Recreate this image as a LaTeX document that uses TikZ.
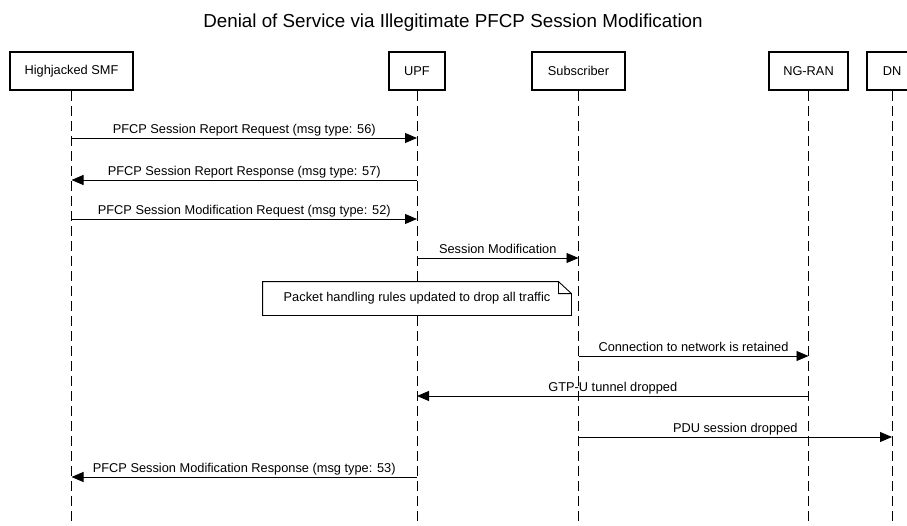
\documentclass[tikz,border=0pt]{standalone}
\usepackage{fontspec}
\setmainfont{Liberation Sans}
\usetikzlibrary{arrows.meta}
\newcommand{\msgfont}{\fontsize{12.8}{15}\selectfont}

\begin{document}
\begin{tikzpicture}[x=1pt,y=-1pt,line width=0.9pt,
    party/.style={draw,line width=2pt,minimum height=38pt,font=\msgfont},
    life/.style={dash pattern=on 10pt off 5pt},
    msg/.style={-{Triangle[length=12pt,width=10pt]}},
    lbl/.style={anchor=base,yshift=5pt,font=\msgfont}
    ]
    \useasboundingbox (0,0) rectangle (907,525);
    \clip (0,0) rectangle (907,525);
    % Titel
    \node[anchor=base,font=\fontsize{18.8}{22}\selectfont] (title) at (453,27)
        {Denial of Service via Illegitimate PFCP Session Modification};
    % Teilnehmer
    \node[party,minimum width=123pt] (smf) at (71.5,71) {Highjacked SMF};
    \node[party,minimum width=56pt] (upf) at (417,71) {UPF};
    \node[party,minimum width=93pt] (sub) at (578.5,71) {Subscriber};
    \node[party,minimum width=79pt] (ran) at (808.5,71) {NG-RAN};
    \node[party,minimum width=50pt] (dn) at (892,71) {DN};
    % Lebenslinien
    \foreach \p in {smf,upf,sub,ran,dn}
        \draw[life] (\p.south) -- (\p |- 0,530);
    % Nachrichten
    \draw[msg] (smf |- 0,138) -- node[lbl] {PFCP Session Report Request (msg type: 56)} (upf |- 0,138);
    \draw[msg] (upf |- 0,180) -- node[lbl] {PFCP Session Report Response (msg type: 57)} (smf |- 0,180);
    \draw[msg] (smf |- 0,219) -- node[lbl] {PFCP Session Modification Request (msg type: 52)} (upf |- 0,219);
    \draw[msg] (upf |- 0,258) -- node[lbl] {Session Modification} (sub |- 0,258);
    % Notiz
    \node[fill=white,minimum width=308pt,minimum height=33pt,font=\msgfont] (note) at (417,298.5)
        {Packet handling rules updated to drop all traffic};
    \draw
    (note.south west) -- (note.north west) -- ([xshift=-13pt]note.north east)
    -- ([yshift=-12pt]note.north east) -- (note.south east) -- cycle
    ([xshift=-13pt]note.north east) |- ([yshift=-12pt]note.north east)
    ;
    \draw[msg] (sub |- 0,356) -- node[lbl] {Connection to network is retained} (ran |- 0,356);
    \draw[msg] (ran |- 0,396) -- node[lbl] {GTP-U tunnel dropped} (upf |- 0,396);
    \draw[msg] (sub |- 0,437) -- node[lbl] {PDU session dropped} (dn |- 0,437);
    \draw[msg] (upf |- 0,477) -- node[lbl] {PFCP Session Modification Response (msg type: 53)} (smf |- 0,477);
\end{tikzpicture}
\end{document}
